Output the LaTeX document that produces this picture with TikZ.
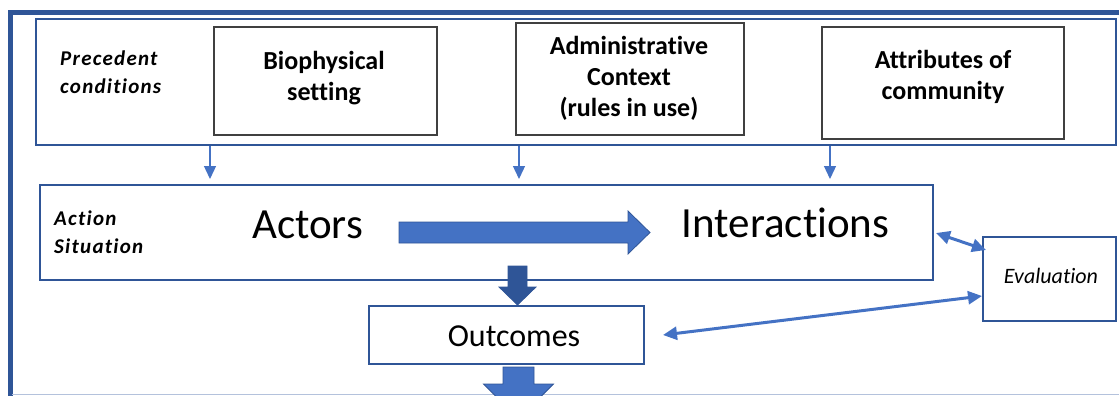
\documentclass[tikz,border=0pt]{standalone}
\usepackage{fontspec}
\setmainfont{Carlito}[Ligatures={NoCommon,NoContextual}]
\newfontfamily\spacedfont{Carlito}[Ligatures={NoCommon,NoContextual}, LetterSpace=6]
\usetikzlibrary{arrows.meta,calc}
\definecolor{frameblue}{HTML}{2F5597}
\definecolor{arrowblue}{HTML}{4472C4}
\definecolor{boxgray}{HTML}{404040}
\definecolor{rulegray}{HTML}{B4C2DC}
\begin{document}
\begin{tikzpicture}[x=1pt,y=-1pt,
  bluebox/.style={draw=frameblue, line width=2pt, inner sep=0pt},
  graybox/.style={draw=boxgray, line width=1.4pt, inner sep=0pt},
  boxtext/.style={font=\fontsize{26}{31}\selectfont\bfseries, align=center, inner sep=0pt},
  sidelabel/.style={font=\spacedfont\fontsize{21}{28}\selectfont\bfseries\itshape, align=left, inner sep=0pt, anchor=west},
  bigtext/.style={font=\fontsize{43}{50}\selectfont, inner sep=0pt, anchor=base},
  feed/.style={draw=arrowblue, line width=1.3pt, -{Triangle[width=12pt,length=13pt]}},
  twoway/.style={draw=arrowblue, line width=3pt,
    {Triangle[width=13pt,length=14pt]}-{Triangle[width=13pt,length=14pt]}},
  blockarrow/.style={fill=arrowblue, draw=frameblue, line width=0.8pt, line join=miter},
]
\useasboundingbox (0,0) rectangle (1119,396);
\clip (0,0) rectangle (1119,396);

% outer frame and bottom rule
\draw[frameblue, line width=5pt] (10,430) -- (10,12.5) -- (1140,12.5);
\draw[rulegray, line width=1.5pt] (12,394.5) -- (1119,394.5);

% precedent conditions
\node[bluebox, minimum width=1080pt, minimum height=126pt] (prec) at (576,82) {};
\node[sidelabel] (prectext) at (60,72.5) {Precedent\\conditions};
\node[graybox, minimum width=223pt, minimum height=108pt] (bio) at (325.5,81) {};
\node[boxtext] (biotext) at (324,78) {Biophysical\\setting};
\node[graybox, minimum width=228pt, minimum height=112pt] (admin) at (630,79) {};
\node[boxtext] (admintext) at (629,78) {Administrative\\Context\\(rules in use)};
\node[graybox, minimum width=242pt, minimum height=112pt] (attr) at (943,83) {};
\node[boxtext] (attrtext) at (943,76.5) {Attributes of\\community};

% action situation
\node[bluebox, minimum width=893pt, minimum height=95pt] (action) at (486.5,232.5) {};
\node[sidelabel] (actiontext) at (54,232) {Action\\Situation};
\node[bigtext] (actors) at (307.5,238) {Actors};
\node[bigtext] (inter) at (785.5,237) {Interac\kern0pt tions};

% outcomes and evaluation
\node[bluebox, minimum width=275pt, minimum height=58pt] (out) at (506.5,335) {};
\node[font=\fontsize{32}{38}\selectfont, inner sep=0pt, anchor=base] (outtext) at (514,346) {Outcomes};
\node[bluebox, minimum width=133pt, minimum height=84pt] (eval) at (1049.5,279) {};
\node[font=\fontsize{22}{26}\selectfont\itshape, inner sep=0pt, anchor=base] (evaltext) at (1051,283) {Evalua\kern0pt tion};

% thin feeds from precedent conditions
\coordinate (p1) at (210,0);
\coordinate (p2) at (519,0);
\coordinate (p3) at (830,0);
\foreach \p in {p1,p2,p3}
  \draw[feed] (prec.south -| \p) -- ($(action.north -| \p)+(0,-5)$);

% two-way links with evaluation
\draw[twoway] ($(action.east)+(2,0.5)$) -- ($(eval.west)+(4,-29)$);
\draw[twoway] ($(out.east)+(18,0)$) -- ($(eval.west)+(0,17)$);

% block arrows
\coordinate (hA) at (399,232.5);
\coordinate (hB) at (650,232.5);
\filldraw[blockarrow] ($(hA)+(0,-10.5)$) -- ($(hB)+(-22,-10.5)$) -- ($(hB)+(-22,-21.5)$)
  -- (hB) -- ($(hB)+(-22,21.5)$) -- ($(hB)+(-22,10.5)$) -- ($(hA)+(0,10.5)$) -- cycle;

\coordinate (dA) at (517.5,266);
\coordinate (dB) at (out.north -| dA);
\filldraw[blockarrow, fill=frameblue] ($(dA)+(-9.5,0)$) -- ($(dB)+(-9.5,-18)$) -- ($(dB)+(-18.5,-18)$)
  -- (dB) -- ($(dB)+(18.5,-18)$) -- ($(dB)+(9.5,-18)$) -- ($(dA)+(9.5,0)$) -- cycle;

\coordinate (eA) at ($(out.south -| 518.5,0)+(0,2)$);
\coordinate (eB) at ($(eA)+(0,52)$);
\filldraw[blockarrow] ($(eA)+(-15.5,0)$) -- ($(eB)+(-15.5,-35)$) -- ($(eB)+(-35,-35)$)
  -- (eB) -- ($(eB)+(35,-35)$) -- ($(eB)+(15.5,-35)$) -- ($(eA)+(15.5,0)$) -- cycle;
\end{tikzpicture}
\end{document}
